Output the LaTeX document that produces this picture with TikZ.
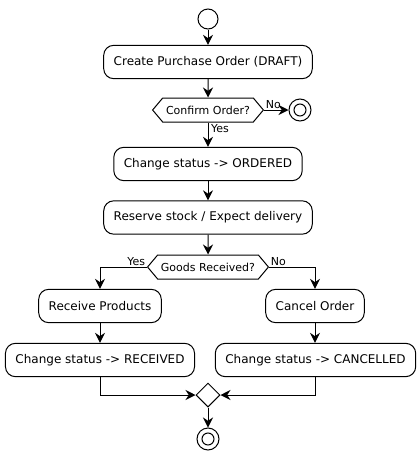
\documentclass[tikz,border=0pt]{standalone}
\usepackage{fontspec}
\setmainfont{DejaVu Sans}
\usetikzlibrary{shapes.symbols,shapes.geometric,arrows.meta}
\tikzset{
	action/.style={draw, line width=0.75pt, rounded corners=7.5pt, minimum height=25pt, inner xsep=7.5pt, font=\fontsize{9}{11}\selectfont},
	choice/.style={draw, line width=0.75pt, signal, signal to=east and west, signal pointer angle=100, minimum height=18pt, inner xsep=2.5pt, inner ysep=0pt, font=\fontsize{8.25}{10}\selectfont},
	merge/.style={draw, line width=0.75pt, diamond, minimum size=18pt, inner sep=0pt},
	startdot/.style={draw, line width=0.75pt, circle, minimum size=15pt, inner sep=0pt},
	stopdot/.style={draw, line width=0.75pt, circle, minimum size=16.5pt, inner sep=0pt,
		path picture={\draw[line width=0.75pt] (path picture bounding box.center) circle (4.5pt);}},
	guard/.style={font=\fontsize{8.25}{10}\selectfont, inner sep=1pt},
	flow/.style={line width=0.75pt, -{Stealth[length=7.5pt, width=7.5pt, inset=2.5pt]}}
}
\begin{document}
\begin{tikzpicture}[x=0.75pt, y=-0.75pt]
	% canvas 420 x 454 px
	\useasboundingbox (0,0) rectangle (420,454);
	% main line
	\node[startdot] (start) at (208,19) {};
	\node[action] (create) at (208,62) {Create Purchase Order (DRAFT)};
	\node[choice] (confirm) at (208,110) {Confirm Order?};
	\node[stopdot] (stopa) at (300,110) {};
	\node[action] (ordered) at (208,164) {Change status -> ORDERED};
	\node[action] (reserve) at (208,217.5) {Reserve stock / Expect delivery};
	\node[choice] (goods) at (208,267) {Goods Received?};
	% branches
	\node[action] (receive) at (100,306) {Receive Products};
	\node[action] (received) at (100,360) {Change status -> RECEIVED};
	\node[action] (cancel) at (315,306) {Cancel Order};
	\node[action] (cancelled) at (315.5,360) {Change status -> CANCELLED};
	\node[merge] (join) at (208,395) {};
	\node[stopdot] (stopb) at (208,439) {};
	
	\draw[flow] (start) -- (create);
	\draw[flow] (create) -- (confirm);
	\draw[flow] (confirm.east) -- node[guard, pos=0, anchor=south west] (lbno) {No} (stopa);
	\draw[flow] (confirm.south) -- node[guard, pos=0, anchor=north west, xshift=1pt] (lbyes) {Yes} (ordered);
	\draw[flow] (ordered) -- (reserve);
	\draw[flow] (reserve) -- (goods);
	\draw[flow] (goods.west) -| node[guard, pos=0, anchor=south east] (lbgot) {Yes} (receive.north);
	\draw[flow] (goods.east) -| node[guard, pos=0, anchor=south west] (lbnot) {No} (cancel.north);
	\draw[flow] (receive) -- (received);
	\draw[flow] (cancel) -- (cancelled.north -| cancel);
	\draw[flow] (received.south) |- (join.west);
	\draw[flow] (cancelled.south -| cancel) |- (join.east);
	\draw[flow] (join) -- (stopb);
\end{tikzpicture}
\end{document}
